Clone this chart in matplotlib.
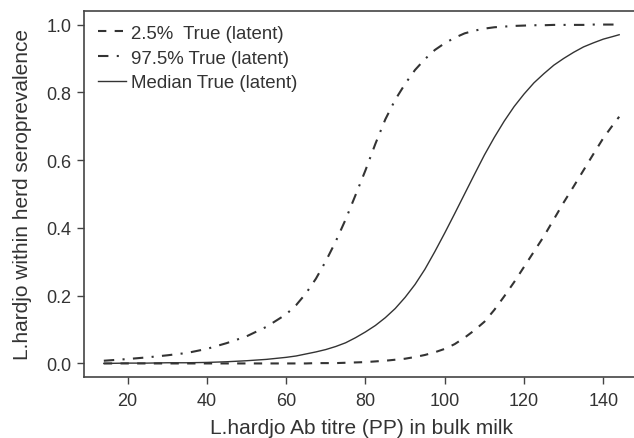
import matplotlib
matplotlib.use("Agg")
import matplotlib.pyplot as plt

plt.rcParams['font.family'] = ['Liberation Sans', 'DejaVu Sans']

# titre values (PP) and estimated curves
titre = [14, 20, 25, 30, 35, 40, 45, 50, 55, 60,
         62.5, 65, 67.5, 70, 72.5, 75, 77.5, 80, 82.5, 85, 87.5, 90, 92.5,
         95, 97.5, 100, 102.5, 105, 107.5, 110, 112.5, 115, 117.5, 120,
         122.5, 125, 127.5, 130, 132.5, 135, 137.5, 140, 142.5, 144]
lower = [0.000, 0.000, 0.000, 0.000, 0.000, 0.000, 0.000, 0.000, 0.000, 0.000,
         0.000, 0.000, 0.001, 0.001, 0.001, 0.002, 0.003, 0.004, 0.006, 0.008,
         0.011, 0.014, 0.019, 0.025, 0.033, 0.043, 0.057, 0.076, 0.098, 0.123,
         0.158, 0.198, 0.240, 0.285, 0.330, 0.375, 0.425, 0.475, 0.522, 0.570,
         0.618, 0.665, 0.705, 0.728]
upper = [0.008, 0.013, 0.018, 0.024, 0.031, 0.043, 0.060, 0.080, 0.108, 0.145,
         0.172, 0.207, 0.250, 0.302, 0.360, 0.425, 0.497, 0.570, 0.648, 0.720,
         0.778, 0.825, 0.866, 0.898, 0.925, 0.945, 0.961, 0.974, 0.982, 0.988,
         0.992, 0.994, 0.996, 0.997, 0.998, 0.998, 0.999, 0.999, 0.999, 0.999,
         1.000, 1.000, 1.000, 1.000]
median = [0.000, 0.001, 0.001, 0.002, 0.002, 0.003, 0.005, 0.008, 0.012, 0.018,
          0.022, 0.028, 0.034, 0.041, 0.050, 0.061, 0.076, 0.093, 0.112, 0.135,
          0.162, 0.195, 0.233, 0.278, 0.330, 0.385, 0.442, 0.500, 0.558, 0.615,
          0.667, 0.715, 0.758, 0.795, 0.828, 0.855, 0.880, 0.900, 0.918, 0.934,
          0.946, 0.957, 0.965, 0.970]

labels = ['2.5%  True (latent)', '97.5% True (latent)', 'Median True (latent)']
ink = '#333333'

fig = plt.figure(figsize=(6.34, 4.39), dpi=100)
ax = fig.add_axes([84 / 634, 1 - 378 / 439, (639 - 84) / 634, (378 - 12) / 439])

ax.plot(titre, lower, color=ink, lw=1.5, dashes=(4, 4), label=labels[0])
ax.plot(titre, upper, color=ink, lw=1.5, dashes=(5, 4, 1, 4), label=labels[1])
ax.plot(titre, median, color=ink, lw=1.0, label=labels[2])

ax.set_xlim(9.0, 149.0)
ax.set_ylim(-0.04, 1.04)
ax.set_xticks([20, 40, 60, 80, 100, 120, 140])
ax.set_yticks([0.0, 0.2, 0.4, 0.6, 0.8, 1.0])
ax.set_yticklabels(['0.0', '0.2', '0.4', '0.6', '0.8', '1.0'])

for s in ax.spines.values():
    s.set_color('#444444')
    s.set_linewidth(1.2)
ax.tick_params(direction='out', length=5, width=1, colors='#444444',
               labelcolor=ink, labelsize=13, pad=4)
ax.tick_params(axis='x', pad=6)

ax.set_xlabel('L.hardjo Ab titre (PP) in bulk milk', fontsize=15, color=ink, labelpad=6)
ax.set_ylabel('L.hardjo within herd seroprevalence', fontsize=15, color=ink, labelpad=10)

ax.legend(loc='upper left', frameon=False, fontsize=13.4, handlelength=1.5,
          handletextpad=0.3, labelspacing=0.41, borderaxespad=0.55,
          borderpad=0.2, labelcolor=ink)

fig.savefig('out.png', dpi=100)
